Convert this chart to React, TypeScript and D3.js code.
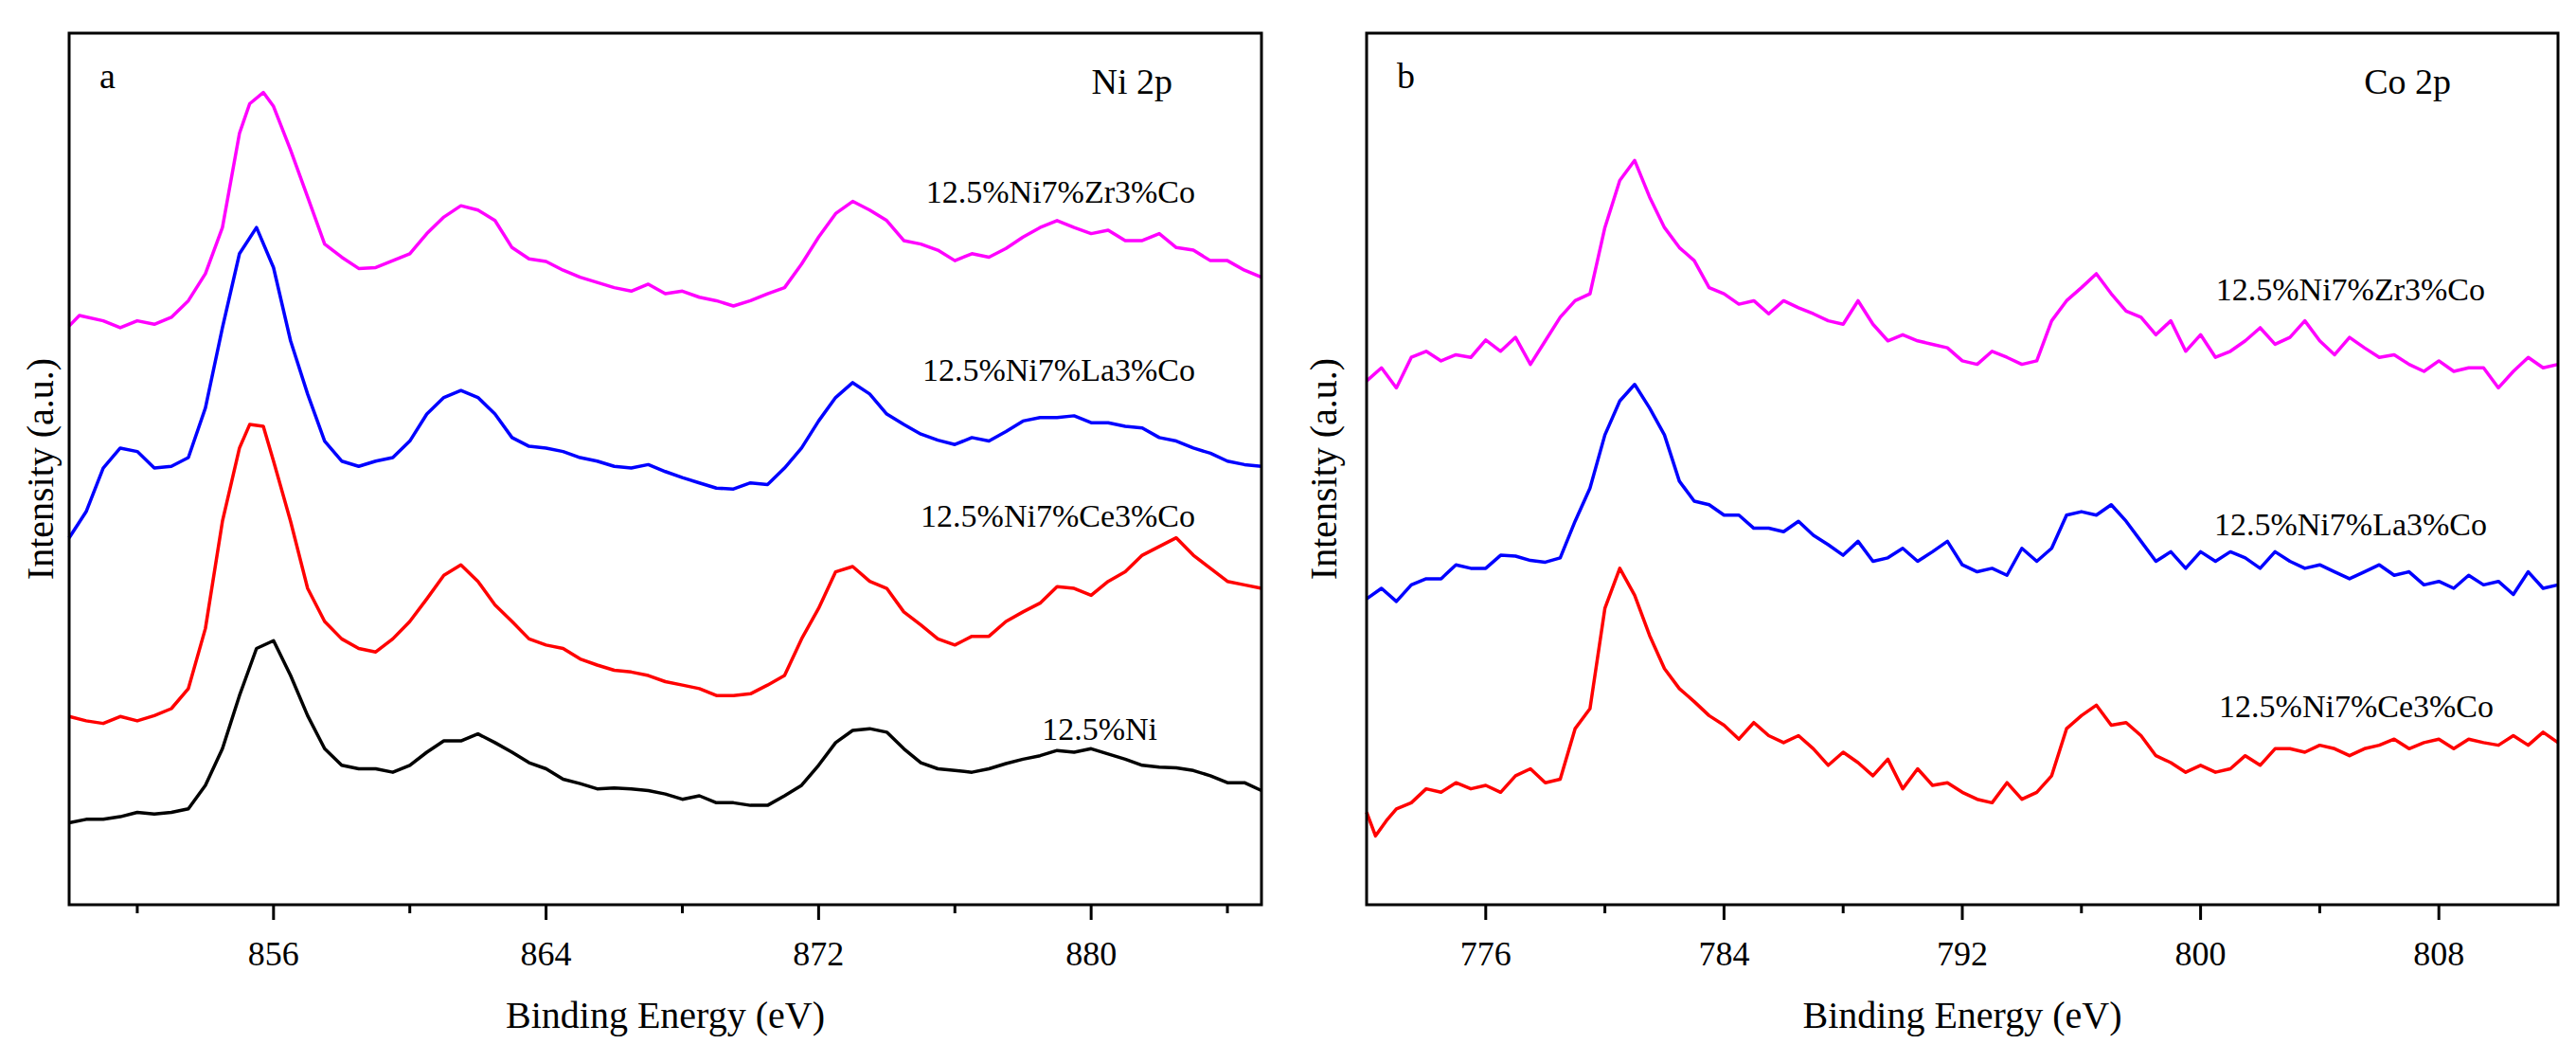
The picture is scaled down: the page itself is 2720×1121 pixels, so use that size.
import React from 'react';
import * as d3 from 'd3';

// Ni 2p panel: [binding energy (eV), intensity (a.u.)]
const niZr: [number, number][] = [[850,66.4],[850.3,67.6],[851,67],[851.5,66.2],[852,67],[852.5,66.6],[853,67.4],[853.5,69.3],[854,72.4],[854.5,77.7],[855,88.5],[855.3,91.9],[855.7,93.2],[856,91.6],[856.5,86.6],[857,81.2],[857.5,75.8],[858,74.3],[858.5,73],[859,73.1],[859.5,73.9],[860,74.7],[860.5,77],[861,78.9],[861.5,80.2],[862,79.7],[862.5,78.5],[863,75.4],[863.5,74.1],[864,73.8],[864.5,72.8],[865,72],[865.5,71.4],[866,70.8],[866.5,70.4],[867,71.2],[867.5,70.1],[868,70.4],[868.5,69.7],[869,69.3],[869.5,68.7],[870,69.3],[870.5,70.1],[871,70.8],[871.5,73.5],[872,76.6],[872.5,79.3],[873,80.7],[873.5,79.7],[874,78.5],[874.5,76.2],[875,75.8],[875.5,75.1],[876,73.9],[876.5,74.7],[877,74.3],[877.5,75.3],[878,76.6],[878.5,77.7],[879,78.5],[879.5,77.7],[880,77],[880.5,77.4],[881,76.2],[881.5,76.2],[882,77],[882.5,75.4],[883,75.1],[883.5,73.9],[884,73.9],[884.5,72.8],[885,72]];
const niLa: [number, number][] = [[850,42.1],[850.5,45.1],[851,50.1],[851.5,52.4],[852,52],[852.5,50.1],[853,50.3],[853.5,51.3],[854,57],[854.5,66.2],[855,74.7],[855.5,77.7],[856,73.1],[856.5,64.7],[857,58.6],[857.5,53.2],[858,50.9],[858.5,50.3],[859,50.9],[859.5,51.3],[860,53.2],[860.5,56.3],[861,58.2],[861.5,59],[862,58.2],[862.5,56.3],[863,53.6],[863.5,52.6],[864,52.4],[864.5,52],[865,51.3],[865.5,50.9],[866,50.3],[866.5,50.1],[867,50.5],[867.5,49.7],[868,49],[868.5,48.4],[869,47.8],[869.5,47.7],[870,48.4],[870.5,48.2],[871,50.1],[871.5,52.4],[872,55.5],[872.5,58.2],[873,59.9],[873.5,58.6],[874,56.3],[874.5,55.1],[875,54],[875.5,53.3],[876,52.8],[876.5,53.6],[877,53.2],[877.5,54.3],[878,55.5],[878.5,55.9],[879,55.9],[879.5,56.1],[880,55.3],[880.5,55.3],[881,54.9],[881.5,54.7],[882,53.6],[882.5,53.2],[883,52.4],[883.5,51.8],[884,50.9],[884.5,50.5],[885,50.3]];
const niCe: [number, number][] = [[850,21.6],[850.5,21.1],[851,20.8],[851.5,21.6],[852,21.1],[852.5,21.7],[853,22.5],[853.5,24.8],[854,31.7],[854.5,44],[855,52.4],[855.3,55.1],[855.7,54.9],[856,50.9],[856.5,44],[857,36.3],[857.5,32.5],[858,30.5],[858.5,29.4],[859,29],[859.5,30.5],[860,32.5],[860.5,35.1],[861,37.8],[861.5,39],[862,37.1],[862.5,34.4],[863,32.5],[863.5,30.5],[864,29.8],[864.5,29.4],[865,28.2],[865.5,27.5],[866,26.9],[866.5,26.7],[867,26.3],[867.5,25.6],[868,25.2],[868.5,24.8],[869,24],[869.5,24],[870,24.2],[870.5,25.2],[871,26.3],[871.5,30.5],[872,34],[872.5,38.2],[873,38.8],[873.5,37.1],[874,36.3],[874.5,33.6],[875,32.1],[875.5,30.5],[876,29.8],[876.5,30.8],[877,30.8],[877.5,32.5],[878,33.6],[878.5,34.6],[879,36.5],[879.5,36.3],[880,35.5],[880.5,37.1],[881,38.2],[881.5,40.1],[882,41.1],[882.5,42.1],[883,40.1],[883.5,38.6],[884,37.1],[884.5,36.7],[885,36.3]];
const niBare: [number, number][] = [[850,9.4],[850.5,9.8],[851,9.8],[851.5,10.1],[852,10.6],[852.5,10.4],[853,10.6],[853.5,11],[854,13.7],[854.5,17.9],[855,24],[855.5,29.4],[856,30.3],[856.5,26.3],[857,21.7],[857.5,17.9],[858,16],[858.5,15.6],[859,15.6],[859.5,15.2],[860,16],[860.5,17.5],[861,18.8],[861.5,18.8],[862,19.6],[862.5,18.6],[863,17.5],[863.5,16.3],[864,15.6],[864.5,14.4],[865,13.9],[865.5,13.3],[866,13.4],[866.5,13.3],[867,13.1],[867.5,12.7],[868,12.1],[868.5,12.5],[869,11.7],[869.5,11.7],[870,11.4],[870.5,11.4],[871,12.5],[871.5,13.7],[872,16],[872.5,18.6],[873,20],[873.5,20.2],[874,19.8],[874.5,17.9],[875,16.3],[875.5,15.6],[876,15.4],[876.5,15.2],[877,15.6],[877.5,16.2],[878,16.7],[878.5,17.1],[879,17.7],[879.5,17.5],[880,17.9],[880.5,17.3],[881,16.7],[881.5,16],[882,15.8],[882.5,15.7],[883,15.4],[883.5,14.8],[884,14],[884.5,14],[885,13.1]];

// Co 2p panel
const coZr: [number, number][] = [[772,60.1],[772.5,61.6],[773,59.3],[773.5,62.8],[774,63.5],[774.5,62.4],[775,63.1],[775.5,62.8],[776,64.8],[776.5,63.5],[777,65.1],[777.5,62],[778,64.7],[778.5,67.4],[779,69.3],[779.5,70.1],[780,77.7],[780.5,83.1],[781,85.4],[781.5,81.2],[782,77.7],[782.5,75.4],[783,73.9],[783.5,70.8],[784,70.1],[784.5,68.9],[785,69.3],[785.5,67.8],[786,69.3],[786.5,68.5],[787,67.8],[787.5,67],[788,66.6],[788.5,69.3],[789,66.6],[789.5,64.7],[790,65.4],[790.5,64.7],[791,64.3],[791.5,63.9],[792,62.4],[792.5,62],[793,63.5],[793.5,62.8],[794,62],[794.5,62.4],[795,67],[795.5,69.3],[796,70.8],[796.5,72.4],[797,70.1],[797.5,68.1],[798,67.4],[798.5,65.4],[799,67],[799.5,63.5],[800,65.4],[800.5,62.8],[801,63.5],[801.5,64.7],[802,66.2],[802.5,64.3],[803,65.1],[803.5,67],[804,64.7],[804.5,63.1],[805,65.1],[805.5,63.9],[806,62.8],[806.5,63.1],[807,62],[807.5,61.2],[808,62.4],[808.5,61.2],[809,61.6],[809.5,61.6],[810,59.3],[810.5,61.2],[811,62.8],[811.5,61.6],[812,62]];
const coLa: [number, number][] = [[772,35.1],[772.5,36.3],[773,34.8],[773.5,36.7],[774,37.4],[774.5,37.4],[775,39],[775.5,38.6],[776,38.6],[776.5,40.1],[777,40],[777.5,39.5],[778,39.3],[778.5,39.8],[779,44],[779.5,47.8],[780,53.9],[780.5,57.8],[781,59.7],[781.5,57],[782,53.9],[782.5,48.6],[783,46.3],[783.5,45.9],[784,44.7],[784.5,44.7],[785,43.2],[785.5,43.2],[786,42.8],[786.5,44],[787,42.4],[787.5,41.3],[788,40.1],[788.5,41.7],[789,39.4],[789.5,39.8],[790,40.9],[790.5,39.4],[791,40.5],[791.5,41.7],[792,39],[792.5,38.2],[793,38.6],[793.5,37.8],[794,40.9],[794.5,39.4],[795,40.9],[795.5,44.7],[796,45.1],[796.5,44.7],[797,45.9],[797.5,44],[798,41.7],[798.5,39.4],[799,40.5],[799.5,38.6],[800,40.5],[800.5,39.4],[801,40.5],[801.5,39.8],[802,38.6],[802.5,40.5],[803,39.4],[803.5,38.6],[804,39],[804.5,38.2],[805,37.4],[805.5,38.2],[806,39],[806.5,37.8],[807,38.2],[807.5,36.7],[808,37.1],[808.5,36.3],[809,37.8],[809.5,36.7],[810,37.1],[810.5,35.6],[811,38.2],[811.5,36.3],[812,36.7]];
const coCe: [number, number][] = [[772,10.6],[772.3,7.9],[772.7,9.8],[773,11],[773.5,11.7],[774,13.3],[774.5,12.9],[775,14],[775.5,13.3],[776,13.7],[776.5,12.9],[777,14.8],[777.5,15.6],[778,14],[778.5,14.4],[779,20.2],[779.5,22.5],[780,34],[780.5,38.6],[781,35.5],[781.5,30.9],[782,27.1],[782.5,24.8],[783,23.3],[783.5,21.7],[784,20.6],[784.5,19],[785,20.9],[785.5,19.4],[786,18.6],[786.5,19.4],[787,17.9],[787.5,16],[788,17.5],[788.5,16.3],[789,14.8],[789.5,16.7],[790,13.3],[790.5,15.6],[791,13.7],[791.5,14],[792,12.9],[792.5,12.1],[793,11.7],[793.5,14],[794,12.1],[794.5,12.9],[795,14.8],[795.5,20.2],[796,21.7],[796.5,22.9],[797,20.6],[797.5,20.9],[798,19.4],[798.5,17.1],[799,16.3],[799.5,15.2],[800,16],[800.5,15.2],[801,15.6],[801.5,17.1],[802,16],[802.5,17.9],[803,17.9],[803.5,17.5],[804,18.3],[804.5,17.9],[805,17.1],[805.5,17.9],[806,18.3],[806.5,19],[807,17.9],[807.5,18.6],[808,19],[808.5,17.9],[809,19],[809.5,18.6],[810,18.3],[810.5,19.4],[811,18.3],[811.5,19.8],[812,18.6]];

const niTicks = [856, 864, 872, 880];
const niMinor = [852, 860, 868, 876, 884];
const coTicks = [776, 784, 792, 800, 808];
const coMinor = [780, 788, 796, 804, 812];

const FONT = '"Liberation Serif", "DejaVu Serif", serif';

interface Series { data: [number, number][]; color: string; label: string; lx: number; ly: number }

interface PanelProps {
  left: number; right: number; top: number; bottom: number;
  domain: [number, number]; ticks: number[]; minor: number[];
  series: Series[]; letter: string; title: string; titleX: number; ylabelX: number;
}

const Panel: React.FC<PanelProps> = (p) => {
  const x = d3.scaleLinear().domain(p.domain).range([p.left, p.right]);
  const y = d3.scaleLinear().domain([0, 100]).range([p.bottom, p.top]);
  const line = d3.line<[number, number]>().x((d) => x(d[0])).y((d) => y(d[1]));
  const midX = (p.left + p.right) / 2;
  const midY = (p.top + p.bottom) / 2;
  return (
    <g fontFamily={FONT}>
      {p.series.map((s) => (
        <path key={s.label + s.color} d={line(s.data) || ''} fill="none" stroke={s.color} strokeWidth={3.5} strokeLinejoin="round" />
      ))}
      <rect x={p.left} y={p.top} width={p.right - p.left} height={p.bottom - p.top} fill="none" stroke="#000" strokeWidth={3} />
      {p.ticks.map((t) => (
        <g key={t}>
          <line x1={x(t)} x2={x(t)} y1={p.bottom} y2={p.bottom + 16} stroke="#000" strokeWidth={3} />
          <text x={x(t)} y={p.bottom + 64} fontSize={36} textAnchor="middle">{t}</text>
        </g>
      ))}
      {p.minor.filter((t) => x(t) < p.right - 2).map((t) => (
        <line key={t} x1={x(t)} x2={x(t)} y1={p.bottom} y2={p.bottom + 9} stroke="#000" strokeWidth={3} />
      ))}
      <text x={midX} y={p.bottom + 130} fontSize={40} textAnchor="middle">Binding Energy (eV)</text>
      <text transform={`translate(${p.ylabelX},${midY}) rotate(-90)`} fontSize={40} textAnchor="middle" dominantBaseline="central">Intensity (a.u.)</text>
      <text x={p.left + 32} y={p.top + 58} fontSize={38}>{p.letter}</text>
      <text x={p.titleX} y={p.top + 64} fontSize={38} textAnchor="end">{p.title}</text>
      {p.series.map((s) => (
        <text key={'l' + s.label} x={s.lx} y={s.ly} fontSize={34} textAnchor="end">{s.label}</text>
      ))}
    </g>
  );
};

const App: React.FC = () => (
  <svg width={2720} height={1121} style={{ position: 'absolute', left: 0, top: 0, background: '#fff' }}>
    <Panel left={73} right={1332} top={35} bottom={955} domain={[850, 885]} ticks={niTicks} minor={niMinor}
      letter="a" title="Ni 2p" titleX={1238} ylabelX={42}
      series={[
        { data: niZr, color: '#ff00ff', label: '12.5%Ni7%Zr3%Co', lx: 1262, ly: 214 },
        { data: niLa, color: '#0000ff', label: '12.5%Ni7%La3%Co', lx: 1262, ly: 402 },
        { data: niCe, color: '#ff0000', label: '12.5%Ni7%Ce3%Co', lx: 1262, ly: 556 },
        { data: niBare, color: '#000000', label: '12.5%Ni', lx: 1222, ly: 781 },
      ]} />
    <Panel left={1443} right={2701} top={35} bottom={955} domain={[772, 812]} ticks={coTicks} minor={coMinor}
      letter="b" title="Co 2p" titleX={2588} ylabelX={1397}
      series={[
        { data: coZr, color: '#ff00ff', label: '12.5%Ni7%Zr3%Co', lx: 2624, ly: 317 },
        { data: coLa, color: '#0000ff', label: '12.5%Ni7%La3%Co', lx: 2626, ly: 565 },
        { data: coCe, color: '#ff0000', label: '12.5%Ni7%Ce3%Co', lx: 2633, ly: 757 },
      ]} />
  </svg>
);

export default App;
